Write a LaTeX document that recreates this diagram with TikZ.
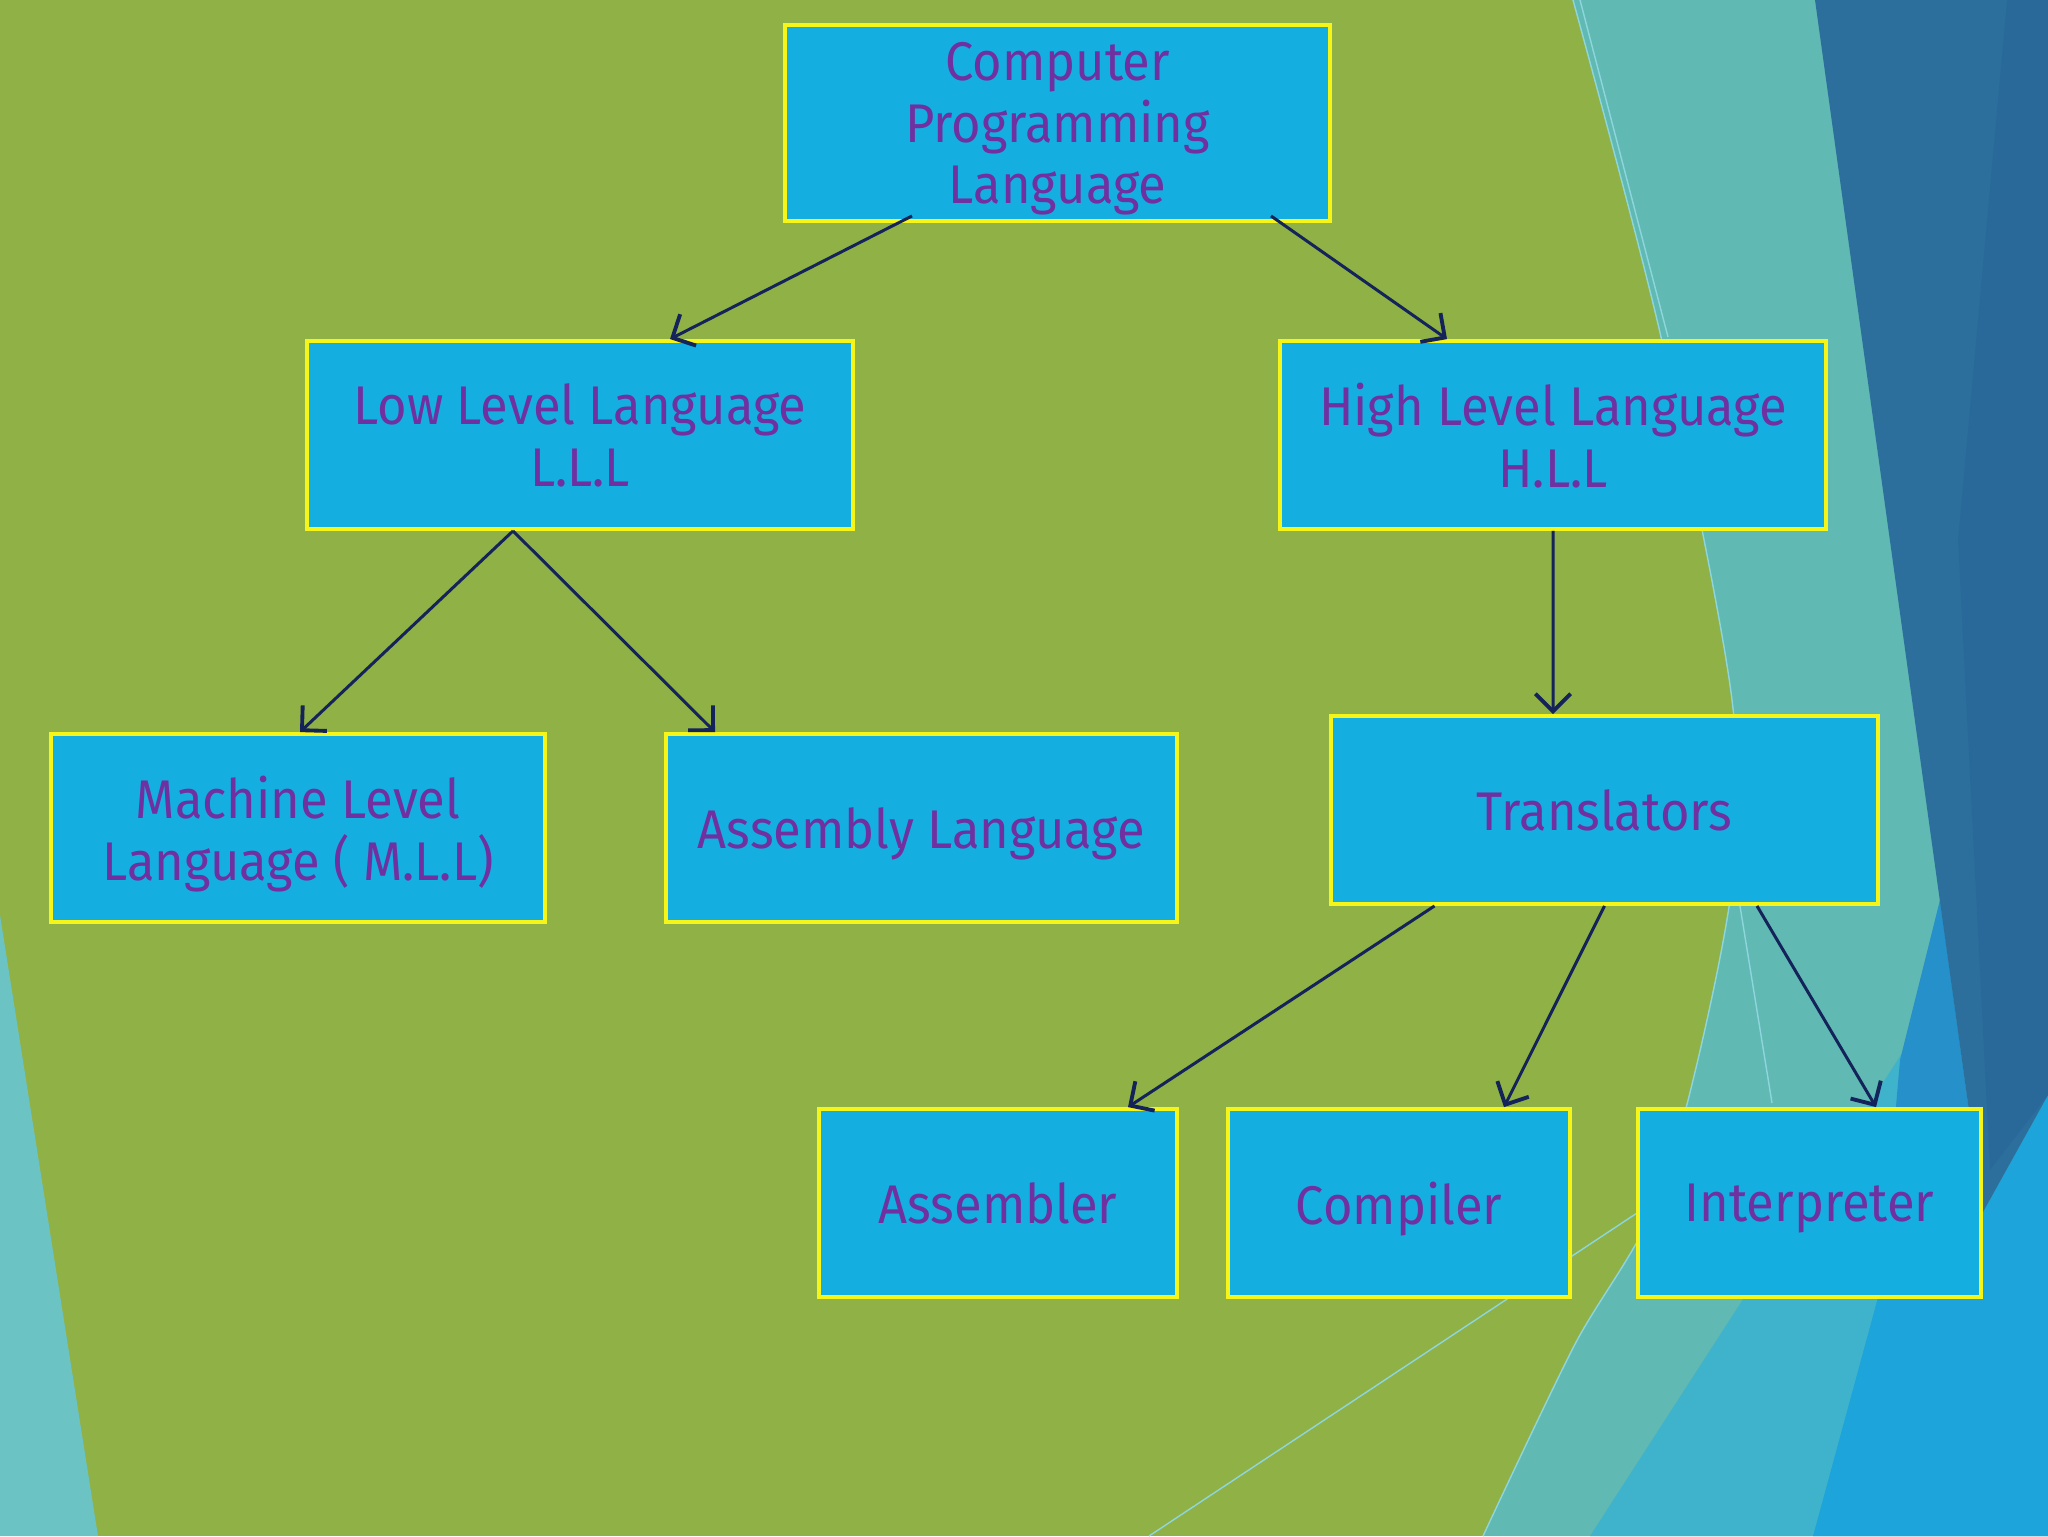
\documentclass[tikz,border=0pt]{standalone}
\usepackage{fontspec}
\setmainfont{Fira Sans}[FakeStretch=0.93]
\usetikzlibrary{arrows.meta,calc}
\definecolor{bggreen}{HTML}{90B145}
\definecolor{bgteal}{HTML}{60B9B2}
\definecolor{bgblueteal}{HTML}{40B3CC}
\definecolor{bgbright}{HTML}{1CA4DB}
\definecolor{bgmid}{HTML}{2590C9}
\definecolor{bgdark}{HTML}{2C6F9D}
\definecolor{bgdarker}{HTML}{29699A}
\definecolor{bgleft}{HTML}{6CC3C3}
\definecolor{thinline}{HTML}{8ED6DE}
\definecolor{boxcyan}{HTML}{15AEE1}
\definecolor{boxyellow}{HTML}{F5F51A}
\definecolor{txtpurple}{HTML}{7030A0}
\definecolor{arrownavy}{HTML}{14235A}
\begin{document}
\begin{tikzpicture}[x=0.1mm,y=-0.1mm,
  box/.style={draw=boxyellow, line width=1.1pt, fill=boxcyan, text=txtpurple,
    align=center, inner sep=0pt, text depth=0pt, font=\fontsize{15.5}{17.5}\selectfont},
  conn/.style={draw=arrownavy, line width=0.85pt,
    -{Straight Barb[length=5pt,width=10pt,line width=1.1pt]}},
  fine/.style={draw=thinline, line width=0.4pt}]
% background
\fill[bggreen] (0,0) rectangle (2048,1536);
\useasboundingbox (0,0) rectangle (2048,1536);
\fill[bgleft] (0,915) -- (98,1536) -- (0,1536) -- cycle;
\fill[bgteal] plot[smooth] coordinates {(1573,0) (1661,337) (1732,700) (1730,900) (1664,1184) (1574,1346) (1483,1536)} -- (2048,1536) -- (2048,0) -- cycle;
\draw[fine] plot[smooth] coordinates {(1573,0) (1661,337) (1732,700) (1730,900) (1664,1184) (1574,1346) (1483,1536)};
\draw[fine] (1580,0) -- (1668,337);
\fill[bgblueteal] (1590,1536) -- (1904,1050) -- (1940,900) -- (1983,1212) -- (2048,1095) -- (2048,1536) -- cycle;
\fill[bgmid] (1900,1060) -- (1940,900) -- (1983,1212) -- (1880,1290) -- cycle;
\fill[bgbright] (1813,1536) -- (1880,1290) -- (1983,1212) -- (2048,1095) -- (2048,1536) -- cycle;
\fill[bgdark] (1815,0) -- (2048,0) -- (2048,1095) -- (1983,1212) -- cycle;
\fill[bgdarker] (2007,0) -- (2048,0) -- (2048,1095) -- (1990,1170) -- (1958,540) -- cycle;
\draw[fine] (1149,1536) -- (1640,1211);
\draw[fine] (1739,900) -- (1772,1103);
% nodes
\node[box, minimum width=54.5mm, minimum height=19.6mm] (top) at (1057.5,123) {Computer\\Programming\\Language};
\node[box, minimum width=54.6mm, minimum height=18.8mm] (lll) at (580,435) {Low Level Language\\L.L.L};
\node[box, minimum width=54.6mm, minimum height=18.8mm] (hll) at (1553,435) {High Level Language\\H.L.L};
\node[box, minimum width=49.4mm, minimum height=18.8mm] (mll) at (298,828) {Machine Level\\Language ( M.L.L)};
\node[box, minimum width=51.1mm, minimum height=18.8mm] (asl) at (921.5,828) {Assembly Language};
\node[box, minimum width=54.7mm, minimum height=18.8mm] (trans) at (1604.5,810) {Translators};
\node[box, minimum width=35.8mm, minimum height=18.8mm] (asm) at (998,1203) {Assembler};
\node[box, minimum width=34.2mm, minimum height=18.8mm] (comp) at (1399,1203) {Compiler};
\node[box, minimum width=34.3mm, minimum height=18.8mm] (intp) at (1809.5,1203) {Interpreter};
% connectors
\draw[conn] ([xshift=-14.55mm,yshift=0.7mm]top.south) -- ([xshift=9mm]lll.north);
\draw[conn] ([xshift=21.35mm,yshift=0.7mm]top.south) -- ([xshift=-10.6mm]hll.north);
\draw[conn] ([xshift=-6.7mm]lll.south) -- ([xshift=0.2mm]mll.north);
\draw[conn] ([xshift=-6.7mm]lll.south) -- ([xshift=-20.65mm]asl.north);
\draw[conn] (hll.south) -- ([xshift=-5.15mm]trans.north);
\draw[conn] ([xshift=-17mm]trans.south) -- ([xshift=13mm]asm.north);
\draw[conn] (trans.south) -- ([xshift=10.5mm]comp.north);
\draw[conn] ([xshift=15.25mm]trans.south) -- ([xshift=6.65mm]intp.north);
\end{tikzpicture}
\end{document}
